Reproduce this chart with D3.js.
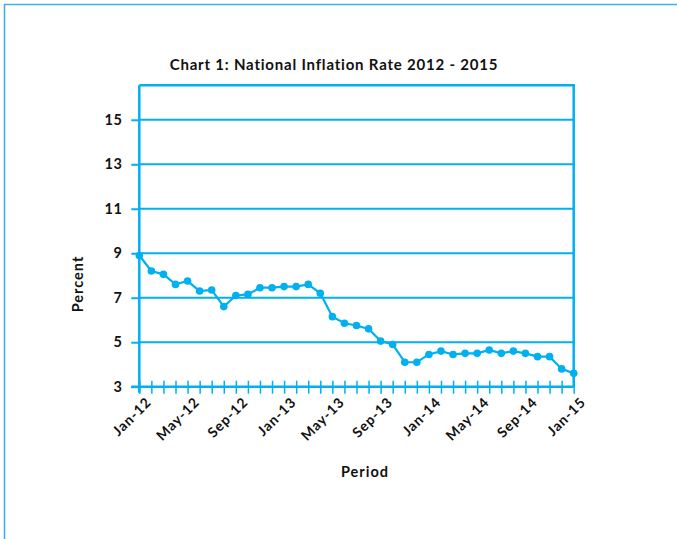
<!DOCTYPE html>
<html>
<head>
<meta charset="utf-8">
<script src="https://cdn.jsdelivr.net/npm/d3@7"></script>
<style>
  body { margin: 0; background: #fff; }
  svg text { font-family: "Century Gothic", Lato, "Open Sans", sans-serif; font-weight: bold; fill: #111; }
</style>
</head>
<body>
<svg id="chart" width="677" height="539"></svg>
<script>
// monthly periods, Jan 2012 to Jan 2015
const periods = [
  'Jan-12', 'Feb-12', 'Mar-12', 'Apr-12', 'May-12', 'Jun-12', 'Jul-12', 'Aug-12', 'Sep-12', 'Oct-12', 'Nov-12', 'Dec-12',
  'Jan-13', 'Feb-13', 'Mar-13', 'Apr-13', 'May-13', 'Jun-13', 'Jul-13', 'Aug-13', 'Sep-13', 'Oct-13', 'Nov-13', 'Dec-13',
  'Jan-14', 'Feb-14', 'Mar-14', 'Apr-14', 'May-14', 'Jun-14', 'Jul-14', 'Aug-14', 'Sep-14', 'Oct-14', 'Nov-14', 'Dec-14',
  'Jan-15'
];
// inflation rate, percent
const inflation = [
  8.9, 8.2, 8.05, 7.6, 7.75, 7.3, 7.35, 6.6, 7.1, 7.15, 7.45, 7.45,
  7.5, 7.5, 7.6, 7.2, 6.15, 5.85, 5.75, 5.6, 5.05, 4.9, 4.1, 4.1,
  4.45, 4.6, 4.45, 4.5, 4.5, 4.65, 4.5, 4.6, 4.5, 4.35, 4.35, 3.8,
  3.6
];
const yTicks = [3, 5, 7, 9, 11, 13, 15];
const xLabels = ['Jan-12', 'May-12', 'Sep-12', 'Jan-13', 'May-13', 'Sep-13', 'Jan-14', 'May-14', 'Sep-14', 'Jan-15'];

const blue = '#00b0f0';
const svg = d3.select('#chart');

// outer frame (top and left edge only)
svg.append('path')
    .attr('d', 'M4.5,539V4.5H677')
    .attr('fill', 'none')
    .attr('stroke', '#3db3e3')
    .attr('stroke-width', 1.6);

const plotL = 139.3, plotR = 573.7, plotT = 85.3, plotB = 386.7;

const x = d3.scalePoint().domain(periods).range([plotL, plotR]);
const y = d3.scaleLinear().domain([3, 16.55]).range([plotB, plotT]);

// gridlines
svg.append('g').selectAll('line')
    .data(yTicks.filter(d => d > 3))
    .enter().append('line')
    .attr('x1', plotL).attr('x2', plotR)
    .attr('y1', d => y(d)).attr('y2', d => y(d))
    .attr('stroke', blue).attr('stroke-width', 2);

// plot border top and right
svg.append('path')
    .attr('d', `M${plotL},${plotT}H${plotR}V${plotB}`)
    .attr('fill', 'none').attr('stroke', blue).attr('stroke-width', 2.5);

// y axis
const yAxis = svg.append('g')
    .attr('transform', `translate(${plotL},0)`)
    .call(d3.axisLeft(y).tickValues(yTicks).tickSize(8).tickPadding(9).tickFormat(d3.format('d')));
yAxis.select('.domain').attr('stroke', blue).attr('stroke-width', 2.5).attr('d', `M0,${plotB + 6}V${plotT}`);
yAxis.selectAll('.tick line').attr('stroke', blue).attr('stroke-width', 2);
yAxis.selectAll('.tick text').style('font-size', '14.5px').style('letter-spacing', '0.5px');

// x axis, ticks cross the axis line
const xAxis = svg.append('g')
    .attr('transform', `translate(0,${plotB})`)
    .call(d3.axisBottom(x).tickSize(0).tickFormat(d => xLabels.includes(d) ? d : ''));
xAxis.select('.domain').attr('stroke', blue).attr('stroke-width', 2.5).attr('d', `M${plotL - 8},0H${plotR}`);
xAxis.selectAll('.tick').append('line')
    .attr('y1', -6).attr('y2', 7)
    .attr('stroke', blue).attr('stroke-width', 1.5);
xAxis.selectAll('.tick text')
    .style('font-size', '14px')
    .style('letter-spacing', '0.9px')
    .attr('text-anchor', 'end')
    .attr('transform', 'translate(5,9) rotate(-45)')
    .attr('dy', '0.75em')
    .attr('y', 0);

// line and markers
svg.append('path')
    .datum(inflation)
    .attr('fill', 'none')
    .attr('stroke', blue)
    .attr('stroke-width', 2.2)
    .attr('d', d3.line().x((d, i) => x(periods[i])).y(d => y(d)));

svg.append('g').selectAll('circle')
    .data(inflation)
    .enter().append('circle')
    .attr('cx', (d, i) => x(periods[i]))
    .attr('cy', d => y(d))
    .attr('r', 3.8)
    .attr('fill', blue);

// titles
svg.append('text')
    .attr('x', 334).attr('y', 70)
    .attr('text-anchor', 'middle')
    .style('font-size', '15px')
    .style('letter-spacing', '0.8px')
    .text('Chart 1: National Inflation Rate 2012 - 2015');

svg.append('text')
    .attr('transform', 'translate(83,284) rotate(-90)')
    .attr('text-anchor', 'middle')
    .style('font-size', '14.5px')
    .style('letter-spacing', '1px')
    .text('Percent');

svg.append('text')
    .attr('x', 365).attr('y', 477)
    .attr('text-anchor', 'middle')
    .style('font-size', '14.5px')
    .style('letter-spacing', '1px')
    .text('Period');
</script>
</body>
</html>
